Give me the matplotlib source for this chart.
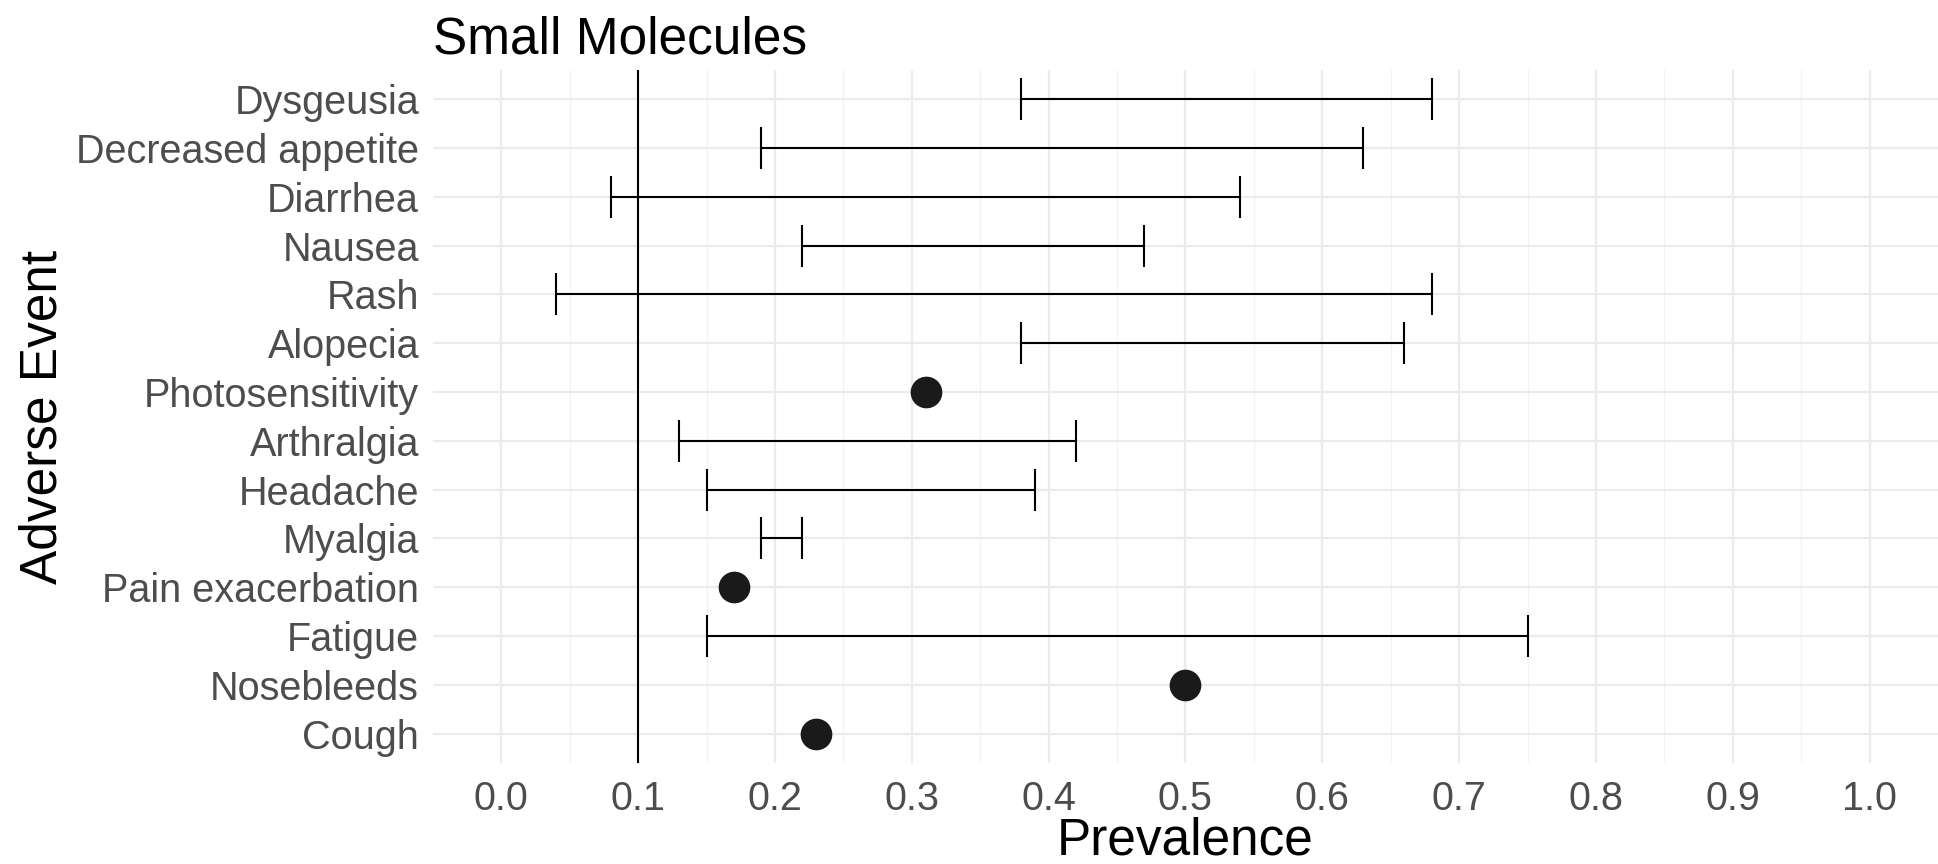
import numpy as np
import matplotlib.pyplot as plt

plt.rcParams['font.family'] = ['Liberation Sans', 'DejaVu Sans']

events = ['Dysgeusia', 'Decreased appetite', 'Diarrhea', 'Nausea', 'Rash', 'Alopecia',
          'Photosensitivity', 'Arthralgia', 'Headache', 'Myalgia', 'Pain exacerbation',
          'Fatigue', 'Nosebleeds', 'Cough']
low = [0.38, 0.19, 0.08, 0.22, 0.04, 0.38, np.nan, 0.13, 0.15, 0.19, np.nan, 0.15, np.nan, np.nan]
high = [0.68, 0.63, 0.54, 0.47, 0.68, 0.66, np.nan, 0.42, 0.39, 0.22, np.nan, 0.75, np.nan, np.nan]
point = [np.nan, np.nan, np.nan, np.nan, np.nan, np.nan, 0.31, np.nan, np.nan, np.nan, 0.17,
         np.nan, 0.50, 0.23]
ref_line = 0.1

fig = plt.figure(figsize=(19.38, 8.64), dpi=100)
ax = fig.add_axes([0.2234, 0.117, 0.7766, 0.802])

n = len(events)
y = np.arange(n)[::-1]
low = np.array(low); high = np.array(high); point = np.array(point)

# grid
ax.set_xticks(np.arange(0, 1.01, 0.1))
ax.set_xticks(np.arange(0.05, 1.0, 0.1), minor=True)
ax.grid(which='major', color='#ebebeb', linewidth=1.6)
ax.grid(which='minor', axis='x', color='#f2f2f2', linewidth=0.9)
ax.set_axisbelow(True)

ax.axvline(ref_line, color='black', linewidth=1.5, zorder=2)

m = ~np.isnan(low)
ax.hlines(y[m], low[m], high[m], color='black', linewidth=1.5, zorder=3)
ax.vlines(low[m], y[m] - 0.43, y[m] + 0.43, color='black', linewidth=1.5, zorder=3)
ax.vlines(high[m], y[m] - 0.43, y[m] + 0.43, color='black', linewidth=1.5, zorder=3)

p = ~np.isnan(point)
ax.scatter(point[p], y[p], s=520, color='#1a1a1a', zorder=4, linewidths=0)

ax.set_xlim(-0.05, 1.05)
ax.set_ylim(-0.6, n - 0.4)
ax.set_yticks(y)
ax.set_yticklabels(events)
ax.set_xticklabels(['%.1f' % v for v in np.arange(0, 1.01, 0.1)])
ax.tick_params(axis='both', which='both', length=0, labelsize=28.5, labelcolor='#4d4d4d')
ax.tick_params(axis='y', pad=10)
ax.tick_params(axis='x', pad=12)
for s in ax.spines.values():
    s.set_visible(False)

ax.set_xlabel('Prevalence', fontsize=37, labelpad=-1)
ax.set_ylabel('Adverse Event', fontsize=37, labelpad=6)
ax.set_title('Small Molecules', fontsize=37, loc='left', pad=12)

fig.savefig('out.png', dpi=100)
